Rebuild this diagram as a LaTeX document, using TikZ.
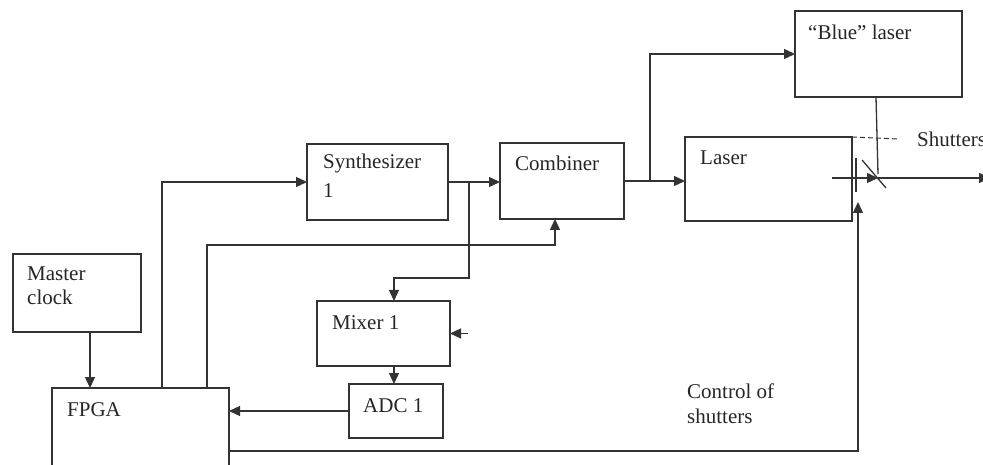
\documentclass[tikz,border=0pt]{standalone}
\usepackage{fontspec}
\setmainfont{Liberation Serif}
\usetikzlibrary{arrows.meta}

\tikzset{
  wire/.style={draw=black!80, line width=1.3pt},
  arr/.style={wire, -{Triangle[length=11pt,width=10pt]}},
  box/.style={draw=black!80, line width=1.3pt, inner sep=0pt, outer sep=0pt, anchor=north west},
  lbl/.style={anchor=base west, inner sep=0pt, text=black!85,
              font=\fontsize{21}{25}\selectfont}
}

\begin{document}
\begin{tikzpicture}[x=1pt, y=-1pt]
  \useasboundingbox[fill=white] (0,0) rectangle (983,465);

  % blocks
  \node[box, minimum width=128pt, minimum height=78pt] (clock) at (13,254) {};
  \node[box, draw=none, minimum width=177pt, minimum height=90pt] (fpga) at (52,388) {};
  \draw[wire] ([yshift=-80pt]fpga.north west) -- (fpga.north west)
              -- (fpga.north east) -- ([yshift=-80pt]fpga.north east);
  \node[box, minimum width=141pt, minimum height=76pt] (synth) at (307,144) {};
  \node[box, minimum width=124pt, minimum height=76pt] (comb) at (500,143) {};
  \node[box, minimum width=167pt, minimum height=84pt] (laser) at (685,137) {};
  \node[box, minimum width=167pt, minimum height=86pt] (blue) at (795,11) {};
  \node[box, minimum width=133pt, minimum height=65pt] (mixer) at (317,301) {};
  \node[box, minimum width=94pt, minimum height=54pt] (adc) at (349,384) {};

  % block labels
  \node[lbl] (tclock1) at (27,280) {Master};
  \node[lbl] (tclock2) at (27,305) {clock};
  \node[lbl] (tfpga) at (67,416) {FPGA};
  \node[lbl] (tsynth1) at (323,169) {Synthesizer};
  \node[lbl] (tsynth2) at (323,198) {1};
  \node[lbl] (tcomb) at (515,171) {Combiner};
  \node[lbl] (tlaser) at (700,165) {Laser};
  \node[lbl] (tblue) at (808,40) {“Blue” laser};
  \node[lbl] (tmixer) at (332,329) {Mixer 1};
  \node[lbl] (tadc) at (363,412) {ADC 1};
  \node[lbl] (tshut) at (917,147) {Shutters};
  \node[lbl] (tctrl1) at (687,398) {Control of};
  \node[lbl] (tctrl2) at (687,423) {shutters};

  % shutter / beam points
  \coordinate (shtop) at (856,158);
  \coordinate (shbot) at (856,192);
  \coordinate (diagA) at (862,160);
  \coordinate (diagB) at (886,188);
  \coordinate (beamstart) at (832,178);
  \coordinate (beam) at (878,178);
  \coordinate (out) at (990,178);
  \coordinate (mixin) at (468,333.5);

  % connectors
  \draw[arr] ([xshift=13pt]clock.south) -- ([xshift=13pt]clock.south |- fpga.north);
  \draw[arr] ([xshift=21.5pt]fpga.north) |- (synth.west);
  \draw[arr] ([xshift=66.5pt]fpga.north) |- ([xshift=-7pt,yshift=-26pt]comb.south)
             -- ([xshift=-7pt]comb.south);
  \draw[arr] (synth.east) -- (synth.east -| comb.west);
  \draw[arr] ([xshift=21pt]synth.east) |- ([xshift=10.5pt,yshift=23pt]mixer.north)
             -- ([xshift=10.5pt]mixer.north);
  \draw[arr] (mixin) -- (mixer.east);
  \draw[arr] ([xshift=10.5pt]mixer.south) -- ([xshift=10.5pt]mixer.south |- adc.north);
  \draw[arr] (adc.west) -- (adc.west -| fpga.east);
  \draw[arr] (comb.east) -- (comb.east -| laser.west);
  \draw[arr] ([xshift=26pt]comb.east) |- (blue.west);
  \draw[arr] ([yshift=-63pt]fpga.north east) -| ([xshift=2pt,yshift=-10pt]shbot);

  % shutters and beams
  \draw[wire] (shtop) -- (shbot);
  \draw[wire] (diagA) -- (diagB);
  \draw[wire, dashed, dash pattern=on 5pt off 3pt, line width=1pt]
        (laser.north east) -- ([xshift=46pt,yshift=-2pt]laser.north east);
  \draw[wire] ([xshift=-2.5pt]blue.south) -- ([yshift=4pt]beam);
  \draw[arr] (beamstart) -- (beam);
  \draw[arr] (beam) -- (out);
\end{tikzpicture}
\end{document}
